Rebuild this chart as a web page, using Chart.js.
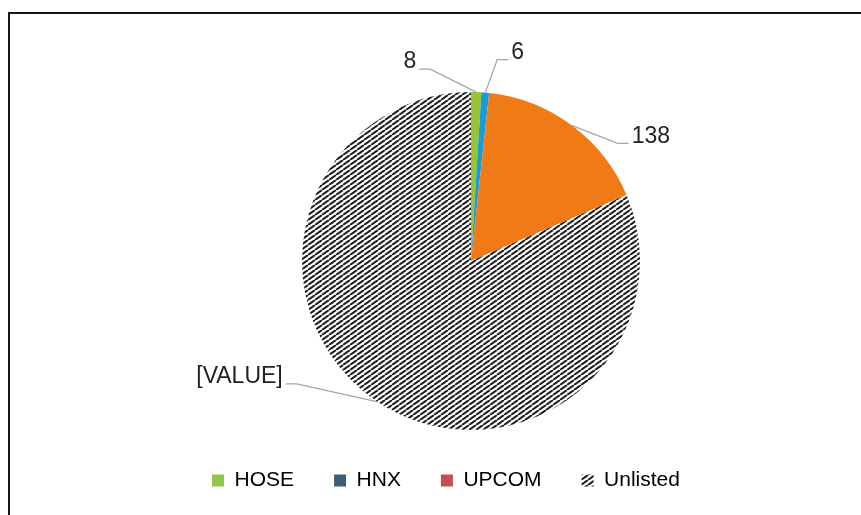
<!DOCTYPE html>
<html>
<head>
<meta charset="utf-8">
<script src="https://cdn.jsdelivr.net/npm/chart.js@4.4.1/dist/chart.umd.min.js"></script>
<style>
    body { margin: 0; background: #fff; overflow: hidden; }
    #frame { position: absolute; left: 8px; top: 12px; width: 900px; height: 600px;
             border-left: 2px solid #151515; border-top: 2px solid #151515; }
    #wrap { position: absolute; left: 0; top: 0; width: 861px; height: 515px; }
</style>
</head>
<body>
<div id="frame"></div>
<div id="wrap"><canvas id="pie-chart" width="861" height="515"></canvas></div>
<script>
// data
var categories = ['HOSE', 'HNX', 'UPCOM', 'Unlisted'];
var values = [8, 6, 138, 665];
var shownLabels = ['8', '6', '138', '[VALUE]'];

var sliceColors = ['#97c531', '#1b9ad8', '#f07b16', null];
var legendColors = ['#92c54a', '#3b5f75', '#c4504c', null];

// leader line elbows, relative to the slice edge (dx, dy) and label side
var leaderOffsets = [[-46, -23], [12, -33], [46, 18], [-81, -18]];
var leaderSides = [-1, 1, 1, -1];

function hatchPattern() {
    var tile = document.createElement('canvas');
    tile.width = 7;
    tile.height = 5;
    var c = tile.getContext('2d');
    c.fillStyle = '#ffffff';
    c.fillRect(0, 0, 7, 5);
    c.strokeStyle = '#1e1e1e';
    c.lineWidth = 2;
    [-7, 0, 7].forEach(function(off) {
        c.beginPath();
        c.moveTo(off, 5);
        c.lineTo(off + 7, 0);
        c.stroke();
    });
    return c.createPattern(tile, 'repeat');
}

var leaderLabels = {
    id: 'leaderLabels',
    afterLayout: function(chart) {
        // legend sits a little left of the pie centre in the original
        chart.legend.left -= 25;
        chart.legend.right -= 25;
    },
    afterDatasetsDraw: function(chart) {
        var ctx = chart.ctx;
        var arcs = chart.getDatasetMeta(0).data;
        ctx.save();
        ctx.font = '23px "Liberation Sans", Arial, sans-serif';
        ctx.fillStyle = '#222222';
        ctx.strokeStyle = '#a6a6a6';
        ctx.lineWidth = 1.3;
        ctx.textBaseline = 'middle';
        arcs.forEach(function(arc, i) {
            var p = arc.getProps(['x', 'y', 'startAngle', 'endAngle', 'outerRadius'], true);
            var mid = (p.startAngle + p.endAngle) / 2;
            var ex = p.x + p.outerRadius * Math.cos(mid);
            var ey = p.y + p.outerRadius * Math.sin(mid);
            var kx = ex + leaderOffsets[i][0];
            var ky = ey + leaderOffsets[i][1];
            var side = leaderSides[i];
            var hx = kx + side * 11;
            ctx.beginPath();
            ctx.moveTo(ex, ey);
            ctx.lineTo(kx, ky);
            ctx.lineTo(hx, ky);
            ctx.stroke();
            ctx.textAlign = side < 0 ? 'right' : 'left';
            ctx.fillText(shownLabels[i], hx + side * 3, ky - 7);
        });
        ctx.restore();
    }
};

var pieChart;
function initPieChart() {
    var canvas = document.getElementById('pie-chart');
    var hatch = hatchPattern();
    var fills = sliceColors.map(function(c) { return c || hatch; });
    var legendFills = legendColors.map(function(c) { return c || hatch; });

    pieChart = new Chart(canvas, {
        type: 'pie',
        data: {
            labels: categories,
            datasets: [{
                data: values,
                backgroundColor: fills,
                borderWidth: 0
            }]
        },
        options: {
            responsive: false,
            animation: false,
            layout: { padding: { left: 81, top: 92, right: 0, bottom: 14 } },
            plugins: {
                tooltip: { enabled: false },
                legend: {
                    position: 'bottom',
                    labels: {
                        boxWidth: 12,
                        boxHeight: 12,
                        padding: 40,
                        color: '#222222',
                        font: { family: '"Liberation Sans", Arial, sans-serif', size: 21 },
                        generateLabels: function(chart) {
                            return categories.map(function(name, i) {
                                return {
                                    text: name,
                                    fillStyle: legendFills[i],
                                    strokeStyle: 'rgba(0,0,0,0)',
                                    lineWidth: 0,
                                    hidden: false,
                                    index: i
                                };
                            });
                        }
                    }
                }
            }
        },
        plugins: [leaderLabels]
    });
}

document.addEventListener('DOMContentLoaded', function() {
    initPieChart();
});
</script>
</body>
</html>
